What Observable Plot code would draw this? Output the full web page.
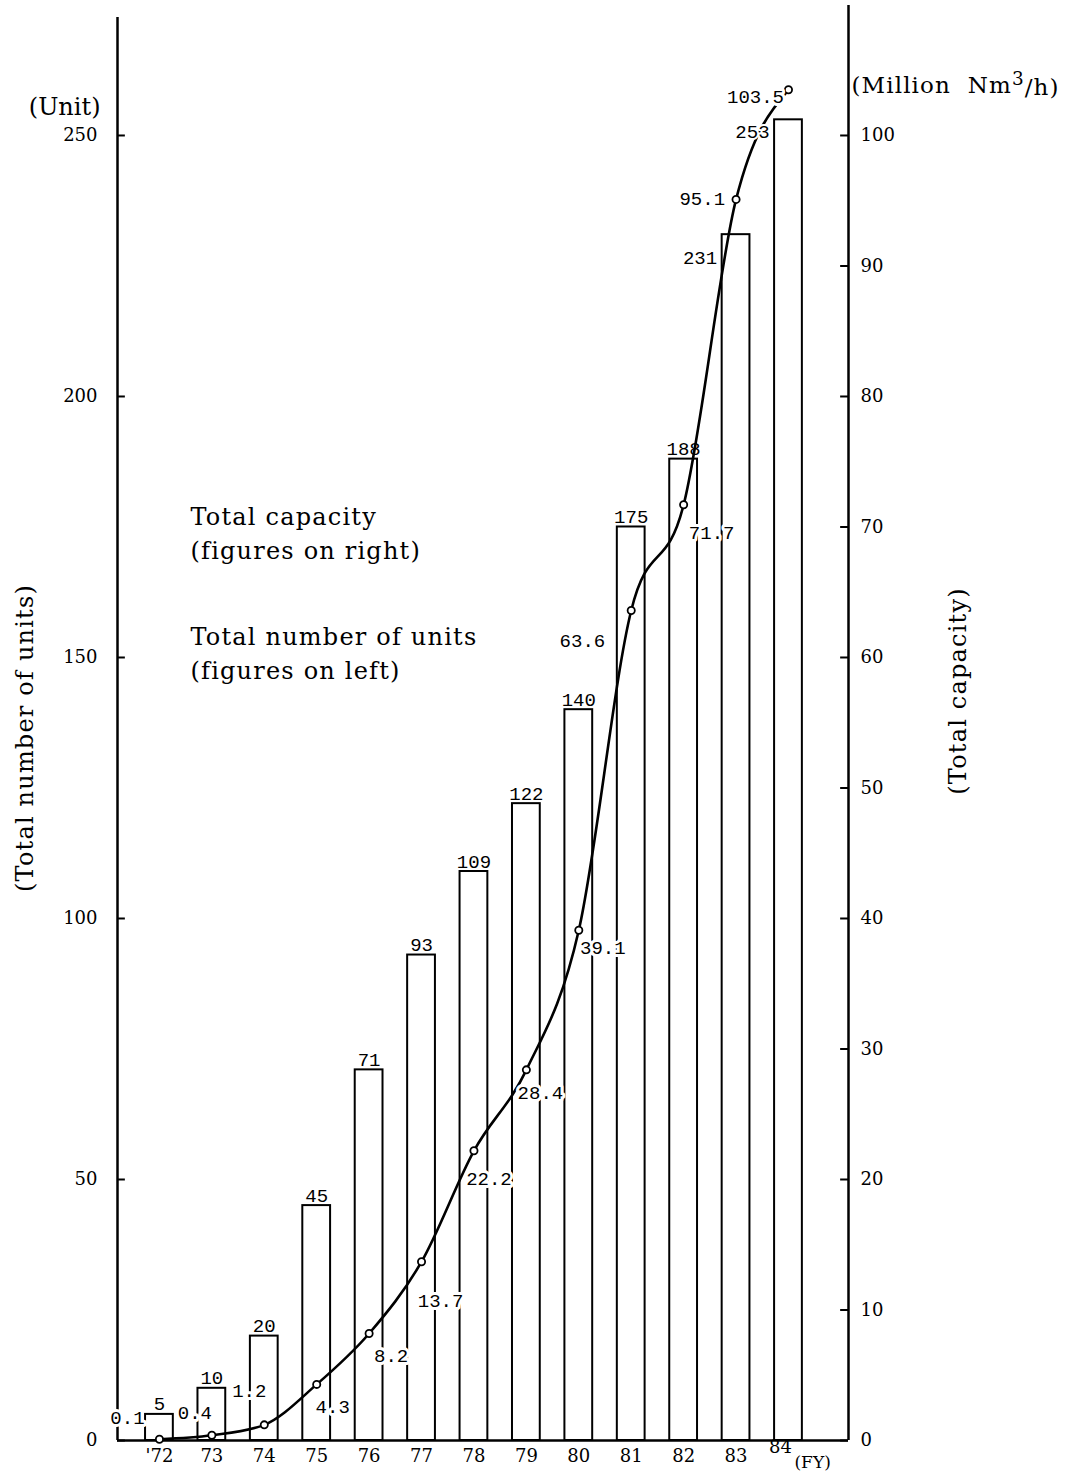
<!DOCTYPE html>
<html><head><meta charset="utf-8">
<script src="https://cdn.jsdelivr.net/npm/d3@7"></script>
<script src="https://cdn.jsdelivr.net/npm/@observablehq/plot@0.6"></script>
<style>body{margin:0;background:#fff} svg{display:block}</style>
</head><body><div id="chart"></div>
<script>
// ---- data ----
const years = [1972,1973,1974,1975,1976,1977,1978,1979,1980,1981,1982,1983,1984];
const yearLabels = ["'72","73","74","75","76","77","78","79","80","81","82","83","84"];
const units = [5,10,20,45,71,93,109,122,140,175,188,231,253];
const capacity = [0.1,0.4,1.2,4.3,8.2,13.7,22.2,28.4,39.1,63.6,71.7,95.1,103.5];
const capacityLabels = ["0.1","0.4","1.2","4.3","8.2","13.7","22.2","28.4","39.1","63.6","71.7","95.1","103.5"];
const unitTicks = [0,50,100,150,200,250];
const capacityTicks = [0,10,20,30,40,50,60,70,80,90,100];

// ---- layout (not data) ----
const capToUnits = 2.5;            // 100 million Nm3/h on right = 250 units on left
const halfBar = 0.265;
const xMin = 1971.2, xMax = 1985.145;
const yTopLeft = 272.6, yTopRight = 274.9;
const capLabelLayout = [
  {dx:-32, dy:-21, a:"middle"},
  {dx:-17, dy:-22, a:"middle"},
  {dx:-15, dy:-34, a:"middle"},
  {dx:16,  dy:23,  a:"middle"},
  {dx:22,  dy:22,  a:"middle"},
  {dx:19,  dy:39,  a:"middle"},
  {dx:15,  dy:28,  a:"middle"},
  {dx:14,  dy:23,  a:"middle"},
  {dx:24,  dy:18,  a:"middle"},
  {dx:-26, dy:30,  a:"end"},
  {dx:28,  dy:28,  a:"middle"},
  {dx:-11, dy:-1,  a:"end"},
  {dx:-33, dy:7,   a:"middle"}
];

const data = years.map((year, i) => ({
  year, label: yearLabels[i], units: units[i], cap: capacity[i],
  capScaled: capacity[i] * capToUnits, capLabel: capacityLabels[i]
}));

const mono = "Liberation Mono";
const serif = "DejaVu Serif";
const halo = {stroke: "white", strokeWidth: 6, paintOrder: "stroke", fill: "black"};

const capLabelMarks = data.map((d, i) => Plot.text([d], {
  x: "year", y: "capScaled", text: "capLabel",
  dx: capLabelLayout[i].dx, dy: capLabelLayout[i].dy, textAnchor: capLabelLayout[i].a,
  lineAnchor: "middle", fontFamily: mono, fontSize: 19, ...halo
}));

const chart = Plot.plot({
  width: 1065, height: 1476,
  marginLeft: 117, marginRight: 217, marginTop: 5, marginBottom: 36,
  style: {background: "white", color: "black", fontFamily: serif, fontSize: "18px"},
  x: {type: "linear", domain: [xMin, xMax], axis: null},
  y: {domain: [0, yTopRight], axis: null},
  marks: [
    Plot.rectY(data, {x1: d => d.year - halfBar, x2: d => d.year + halfBar, y1: () => 0, y2: "units",
      fill: "white", stroke: "black", strokeWidth: 2}),
    Plot.ruleY([0], {stroke: "black", strokeWidth: 2.5}),
    Plot.ruleX([xMin], {y1: () => 0, y2: () => yTopLeft, stroke: "black", strokeWidth: 2.5}),
    Plot.ruleX([xMax], {y1: () => 0, y2: () => yTopRight, stroke: "black", strokeWidth: 2.5}),
    Plot.ruleY(unitTicks, {y: d => d, x1: () => xMin, x2: () => xMin + 0.15, stroke: "black", strokeWidth: 2}),
    Plot.ruleY(capacityTicks, {y: d => d * capToUnits, x1: () => xMax - 0.15, x2: () => xMax, stroke: "black", strokeWidth: 2}),
    Plot.axisY({anchor: "left", ticks: unitTicks, tickSize: 0, tickPadding: 20, fontSize: 18, label: null}),
    Plot.axisY({anchor: "right", ticks: capacityTicks.map(c => c * capToUnits), tickFormat: d => String(Math.round(d / capToUnits)),
      tickSize: 0, tickPadding: 12, fontSize: 18, label: null}),
    Plot.axisX({ticks: years.slice(0, -1), tickFormat: d => yearLabels[years.indexOf(d)], tickSize: 0, tickPadding: 9, fontSize: 18, label: null}),
    Plot.text([data[data.length - 1]], {x: "year", y: () => 0, text: "label", dx: -8, dy: 7, lineAnchor: "middle", fontSize: 18}),
    Plot.text(["(FY)"], {x: () => years[years.length - 1], y: () => 0, text: d => d, dx: 6, dy: 22, textAnchor: "start", lineAnchor: "middle", fontSize: 17}),
    Plot.line(data, {x: "year", y: "capScaled", curve: "monotone-x", stroke: "black", strokeWidth: 2.6}),
    Plot.dot(data, {x: "year", y: "capScaled", r: 3.6, fill: "white", stroke: "black", strokeWidth: 1.8}),
    // bar value labels
    Plot.text(data.slice(0, 11), {x: "year", y: "units", text: d => String(d.units), lineAnchor: "bottom", dy: -4,
      fontFamily: mono, fontSize: 19, fill: "black"}),
    Plot.text([data[11]], {x: d => d.year - halfBar, y: "units", text: d => String(d.units), textAnchor: "end", lineAnchor: "middle",
      dx: -5, dy: 23, fontFamily: mono, fontSize: 19, ...halo, strokeWidth: 4}),
    Plot.text([data[12]], {x: d => d.year - halfBar, y: "units", text: d => String(d.units), textAnchor: "end", lineAnchor: "middle",
      dx: -5, dy: 12, fontFamily: mono, fontSize: 19, ...halo, strokeWidth: 4}),
    ...capLabelMarks,
    // titles and annotations
    Plot.text(["(Unit)"], {frameAnchor: "top-left", text: d => d, dx: -17, dy: 102, textAnchor: "end", lineAnchor: "middle", fontSize: 24}),
    Plot.text(["(Million Nm3/h)"], {frameAnchor: "top-right", text: d => d, dx: 3, dy: 80, textAnchor: "start", lineAnchor: "middle", fontSize: 23}),
    Plot.text(["(Total number of units)"], {frameAnchor: "left", text: d => d, rotate: -90, dx: -92, dy: 15,
      textAnchor: "middle", lineAnchor: "middle", fontSize: 24}),
    Plot.text(["(Total capacity)"], {frameAnchor: "right", text: d => d, rotate: -90, dx: 110, dy: -32,
      textAnchor: "middle", lineAnchor: "middle", fontSize: 24}),
    Plot.text(["Total capacity\n(figures on right)"], {frameAnchor: "top-left", text: d => d, dx: 73, dy: 496, textAnchor: "start",
      lineAnchor: "top", lineHeight: 1.4, fontSize: 24}),
    Plot.text(["Total number of units\n(figures on left)"], {frameAnchor: "top-left", text: d => d, dx: 73, dy: 616, textAnchor: "start",
      lineAnchor: "top", lineHeight: 1.4, fontSize: 24})
  ]
});

// wider letter spacing for the serif annotations, as in the printed original
const spaced = ["(Total number of units)", "(Total capacity)", "Total capacity", "(figures on right)",
  "Total number of units", "(figures on left)", "Total capacity(figures on right)", "Total number of units(figures on left)"];
d3.select(chart).selectAll("text").filter(function() { return spaced.includes(this.textContent); })
  .style("letter-spacing", "1.2px");

// superscript for Nm3
d3.select(chart).selectAll("text").filter(function() { return this.textContent === "(Million Nm3/h)"; }).each(function() {
  const t = d3.select(this);
  t.text(null).style("letter-spacing", "1.1px");
  t.append("tspan").text("(Million\u00a0\u00a0Nm");
  t.append("tspan").attr("dy", "-0.45em").attr("font-size", "0.8em").text("3");
  t.append("tspan").attr("dy", "0.45em").text("/h)");
});

document.getElementById("chart").appendChild(chart);
</script>
</body></html>
